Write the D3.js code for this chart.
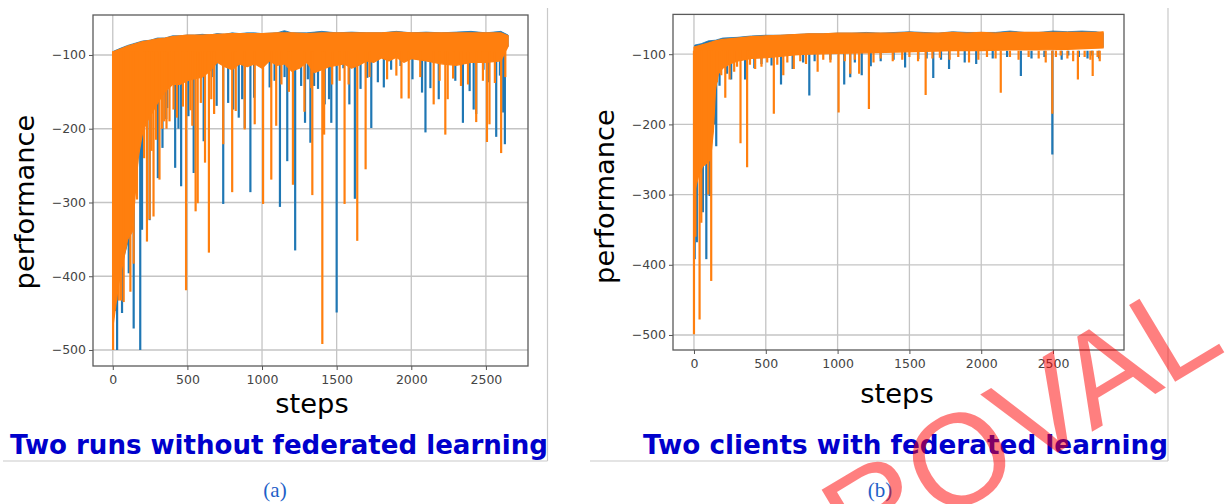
<!DOCTYPE html>
<html>
<head>
<meta charset="utf-8">
<script src="https://cdn.jsdelivr.net/npm/d3@7"></script>
<style>
  html, body { margin: 0; padding: 0; background: #fff; }
  svg { display: block; }
</style>
</head>
<body>
<svg id="fig" width="1232" height="504"></svg>
<script>
// ---- shared tick values ----
const stepTicks = [0, 500, 1000, 1500, 2000, 2500];
const perfTicks = [-100, -200, -300, -400, -500];

// ---- (a) two independent runs ----
// upper edge of each dense trace, [step, performance]
const runBlueTop = [[0,-128],[4,-95],[50,-91],[100,-87],[150,-84],[200,-81],[250,-80],[300,-77],[350,-77],[400,-74],[450,-74],[500,-73],[550,-73],[600,-72],[650,-73],[700,-71],[750,-72],[800,-70],[850,-71],[900,-70],[950,-70],[1000,-71],[1100,-70],[1150,-67],[1200,-70],[1300,-70],[1400,-68],[1500,-70],[1600,-69],[1700,-70],[1800,-70],[1900,-68],[2000,-70],[2100,-69],[2200,-70],[2300,-69],[2400,-68],[2500,-70],[2600,-68],[2649,-73]];
// lower edge of the densely filled part of each trace
const runBlueFloor = [[0,-440],[40,-400],[80,-370],[120,-340],[150,-280],[180,-220],[220,-185],[260,-175],[300,-160],[350,-145],[400,-135],[450,-135],[500,-130],[600,-125],[700,-108],[800,-115],[900,-110],[1000,-108],[1200,-110],[1400,-110],[1600,-106],[1800,-100],[2000,-100],[2200,-104],[2400,-104],[2600,-102],[2649,-88]];
// isolated downward excursions, [step, performance]
const runBlueDips = [[18,-447],[29,-500],[44,-365],[62,-450],[91,-337],[107,-396],[140,-471],[184,-500],[196,-337],[247,-324],[302,-267],[333,-226],[358,-187],[365,-172],[418,-253],[440,-200],[458,-278],[507,-183],[542,-260],[609,-217],[673,-130],[696,-169],[740,-302],[773,-165],[807,-174],[844,-185],[867,-160],[884,-199],[922,-286],[947,-158],[1029,-108],[1051,-144],[1084,-135],[1120,-306],[1151,-130],[1169,-244],[1222,-365],[1262,-142],[1288,-192],[1307,-133],[1324,-219],[1349,-142],[1375,-146],[1420,-167],[1449,-160],[1464,-192],[1500,-449],[1545,-118],[1585,-167],[1622,-295],[1660,-146],[1705,-131],[1732,-199],[1776,-137],[1816,-144],[1865,-120],[1928,-115],[2008,-133],[2072,-151],[2095,-205],[2128,-145],[2184,-160],[2295,-135],[2346,-192],[2391,-149],[2418,-174],[2435,-180],[2484,-120],[2518,-137],[2569,-211],[2594,-128],[2616,-178],[2627,-221]];

const runOrangeTop = [[0,-96],[50,-92],[100,-88],[150,-85],[200,-82],[250,-80],[300,-78],[350,-77],[400,-75],[450,-74],[500,-73],[600,-73],[700,-72],[800,-71],[900,-71],[1000,-71],[1100,-70],[1200,-70],[1300,-71],[1400,-70],[1500,-70],[1600,-70],[1700,-70],[1800,-70],[1900,-69],[2000,-70],[2100,-70],[2200,-70],[2300,-70],[2400,-70],[2500,-70],[2600,-70],[2649,-74]];
const runOrangeFloor = [[0,-470],[20,-440],[40,-410],[60,-390],[80,-370],[100,-350],[130,-340],[150,-290],[170,-240],[200,-205],[230,-190],[260,-180],[300,-165],[350,-150],[400,-140],[450,-140],[500,-135],[550,-132],[600,-130],[650,-122],[700,-110],[750,-116],[800,-120],[850,-112],[900,-116],[950,-112],[1000,-118],[1050,-108],[1100,-114],[1150,-112],[1200,-122],[1250,-118],[1300,-110],[1350,-124],[1400,-120],[1450,-116],[1500,-114],[1550,-112],[1600,-118],[1650,-114],[1700,-108],[1750,-110],[1800,-104],[1850,-108],[1900,-103],[1950,-110],[2000,-105],[2100,-108],[2200,-112],[2300,-114],[2400,-110],[2500,-110],[2600,-108],[2649,-88]];
const runOrangeDips = [[2,-500],[40,-433],[55,-433],[73,-435],[118,-421],[140,-383],[162,-296],[210,-240],[229,-353],[247,-323],[260,-230],[273,-319],[290,-215],[313,-269],[330,-200],[345,-190],[360,-200],[380,-190],[407,-174],[430,-185],[470,-170],[491,-419],[520,-175],[533,-196],[555,-312],[569,-301],[590,-165],[618,-246],[644,-368],[660,-160],[679,-180],[740,-221],[800,-286],[824,-176],[884,-201],[951,-194],[1007,-302],[1062,-269],[1095,-196],[1130,-140],[1180,-150],[1207,-276],[1284,-177],[1330,-145],[1337,-290],[1404,-492],[1416,-208],[1470,-140],[1520,-135],[1553,-302],[1580,-140],[1638,-352],[1694,-255],[1720,-130],[1838,-133],[1900,-128],[1934,-159],[1983,-159],[2060,-130],[2150,-167],[2190,-135],[2228,-208],[2244,-160],[2280,-132],[2333,-142],[2380,-140],[2435,-191],[2480,-135],[2507,-218],[2524,-194],[2560,-138],[2602,-233],[2630,-130]];

// ---- (b) two federated clients ----
const fedBlueTop = [[0,-128],[5,-87],[50,-85],[100,-81],[150,-80],[200,-77],[300,-76],[400,-74],[500,-73],[600,-73],[700,-72],[800,-71],[900,-71],[1000,-70],[1100,-70],[1200,-69],[1300,-70],[1400,-69],[1500,-68],[1600,-69],[1700,-70],[1800,-68],[1900,-69],[2000,-69],[2100,-69],[2200,-67],[2300,-69],[2400,-69],[2500,-67],[2600,-68],[2700,-67],[2800,-68],[2849,-70]];
const fedBlueFloor = [[0,-280],[60,-250],[120,-230],[150,-140],[200,-112],[300,-104],[500,-100],[800,-97],[1200,-95],[1600,-94],[2000,-93],[2400,-92],[2849,-90]];
const fedBlueDips = [[5,-392],[20,-368],[62,-325],[86,-392],[109,-302],[145,-200],[155,-231],[178,-145],[230,-128],[259,-136],[356,-136],[420,-120],[470,-114],[540,-116],[606,-143],[687,-121],[760,-112],[803,-159],[840,-110],[950,-108],[1046,-143],[1088,-133],[1120,-112],[1168,-130],[1231,-117],[1300,-110],[1390,-108],[1470,-119],[1562,-107],[1620,-106],[1666,-134],[1720,-108],[1776,-121],[1885,-112],[1965,-114],[2080,-106],[2180,-104],[2276,-131],[2350,-106],[2440,-104],[2495,-243],[2560,-108],[2606,-102],[2680,-104],[2740,-106],[2772,-102],[2820,-106]];

const fedOrangeTop = [[0,-90],[50,-87],[100,-84],[150,-81],[200,-79],[300,-77],[400,-75],[500,-74],[600,-73],[700,-72],[800,-71],[900,-71],[1000,-70],[1100,-70],[1200,-70],[1300,-70],[1400,-70],[1500,-69],[1600,-70],[1700,-70],[1800,-69],[1900,-70],[2000,-69],[2100,-70],[2200,-69],[2300,-69],[2400,-69],[2500,-69],[2600,-69],[2700,-69],[2800,-69],[2849,-68]];
const fedOrangeFloor = [[0,-300],[30,-275],[60,-260],[90,-255],[115,-250],[135,-210],[150,-150],[170,-128],[200,-120],[250,-114],[300,-110],[400,-106],[500,-105],[600,-103],[700,-101],[800,-100],[1000,-99],[1200,-98],[1400,-97],[1600,-96],[1800,-95],[2000,-95],[2200,-94],[2400,-94],[2600,-93],[2849,-91]];
const fedOrangeDips = [[0,-499],[10,-360],[39,-478],[51,-340],[100,-300],[120,-423],[160,-140],[190,-130],[218,-162],[248,-136],[280,-125],[300,-118],[324,-227],[370,-261],[390,-115],[426,-121],[470,-118],[510,-112],[556,-185],[580,-115],[622,-130],[650,-112],[695,-121],[740,-110],[780,-114],[861,-125],[900,-108],[950,-112],[1007,-183],[1050,-110],[1088,-128],[1120,-108],[1150,-128],[1218,-178],[1250,-112],[1300,-106],[1384,-110],[1450,-108],[1500,-104],[1560,-110],[1613,-158],[1660,-106],[1712,-105],[1780,-108],[1840,-104],[1915,-112],[1980,-108],[2040,-104],[2100,-106],[2136,-155],[2200,-104],[2260,-108],[2330,-104],[2400,-106],[2449,-112],[2495,-185],[2520,-104],[2553,-102],[2600,-106],[2640,-110],[2673,-136],[2720,-104],[2760,-108],[2776,-131],[2810,-104],[2825,-110]];

// ---- text ----
const xTitle = 'steps';
const yTitle = 'performance';
const captions = ['Two runs without federated learning', 'Two clients with federated learning'];
const subLabels = ['(a)', '(b)'];
const stamp = 'APPROVAL';

// ---- drawing ----
const svg = d3.select('#fig');
const BLUE = '#1f77b4', ORANGE = '#ff7f0e';
const dipBase = -95;

const panels = [
  { id: 'a', left: 93, right: 528, top: 15, bottom: 366,
    stepDomain: [-132.5, 2782], perfDomain: [-521.7, -45.8],
    stepsPos: [312, 413], perfPos: [33.5, 202],
    caption: captions[0], capX: 279, capLen: 538, sub: subLabels[0], subX: 275,
    series: [
      { color: BLUE, top: runBlueTop, floor: runBlueFloor, dips: runBlueDips, edge: 0.8 },
      { color: ORANGE, top: runOrangeTop, floor: runOrangeFloor, dips: runOrangeDips, edge: 1.2 }
    ] },
  { id: 'b', left: 673, right: 1124, top: 14.4, bottom: 350,
    stepDomain: [-146, 2994], perfDomain: [-521.4, -43.3],
    stepsPos: [897, 402.5], perfPos: [613.5, 196.5],
    caption: captions[1], capX: 905.5, capLen: 525, sub: subLabels[1], subX: 880,
    series: [
      { color: BLUE, top: fedBlueTop, floor: fedBlueFloor, dips: fedBlueDips, edge: 0.8 },
      { color: ORANGE, top: fedOrangeTop, floor: fedOrangeFloor, dips: fedOrangeDips, edge: 1.2 }
    ] }
];

// light frame lines around each subfigure
const frameLines = [[547.5, 8, 547.5, 461], [3, 461, 547.5, 461], [1168, 8, 1168, 461], [590, 461, 1168, 461]];
svg.append('g').attr('stroke', '#c9c9c9').attr('stroke-width', 1.2)
  .selectAll('line').data(frameLines).join('line')
  .attr('x1', d => d[0]).attr('y1', d => d[1]).attr('x2', d => d[2]).attr('y2', d => d[3]);

panels.forEach(p => {
  const x = d3.scaleLinear().domain(p.stepDomain).range([p.left, p.right]);
  const y = d3.scaleLinear().domain(p.perfDomain).range([p.bottom, p.top]);
  const g = svg.append('g');

  const clipId = 'plot-clip-' + p.id;
  g.append('clipPath').attr('id', clipId).append('rect')
    .attr('x', p.left).attr('y', p.top)
    .attr('width', p.right - p.left).attr('height', p.bottom - p.top);

  // grid
  const grid = g.append('g').attr('stroke', '#c4c4c4').attr('stroke-width', 1.3);
  grid.selectAll('line.gx').data(stepTicks).join('line').attr('class', 'gx')
    .attr('x1', d => x(d)).attr('x2', d => x(d)).attr('y1', p.top).attr('y2', p.bottom);
  grid.selectAll('line.gy').data(perfTicks).join('line').attr('class', 'gy')
    .attr('y1', d => y(d)).attr('y2', d => y(d)).attr('x1', p.left).attr('x2', p.right);

  // traces: dense band plus isolated dips, blue first, orange over it
  const plot = g.append('g').attr('clip-path', `url(#${clipId})`);
  const outline = d3.line().x(d => x(d[0])).y(d => y(d[1]));
  p.series.forEach(s => {
    const ring = s.top.concat(s.floor.slice().reverse());
    plot.append('path').attr('d', outline(ring) + 'Z')
      .attr('fill', s.color).attr('stroke', s.color)
      .attr('stroke-width', s.edge).attr('stroke-linejoin', 'round');
    plot.append('g').selectAll('line').data(s.dips).join('line')
      .attr('x1', d => x(d[0])).attr('x2', d => x(d[0]))
      .attr('y1', y(dipBase)).attr('y2', d => y(d[1]))
      .attr('stroke', s.color).attr('stroke-width', 2.2);
  });

  // axes
  const ax = g.append('g').attr('transform', `translate(0,${p.bottom})`)
    .call(d3.axisBottom(x).tickValues(stepTicks).tickSize(4).tickPadding(5).tickFormat(d3.format('d')));
  const ay = g.append('g').attr('transform', `translate(${p.left},0)`)
    .call(d3.axisLeft(y).tickValues(perfTicks).tickSize(4).tickPadding(3));
  [ax, ay].forEach(a => {
    a.attr('font-family', '"DejaVu Sans", sans-serif').attr('font-size', 12.5);
    a.select('.domain').remove();
    a.selectAll('line').attr('stroke', '#555');
    a.selectAll('text').attr('fill', '#444');
  });

  // axes frame
  g.append('rect').attr('x', p.left).attr('y', p.top)
    .attr('width', p.right - p.left).attr('height', p.bottom - p.top)
    .attr('fill', 'none').attr('stroke', '#5a5a5a').attr('stroke-width', 1.3);

  // axis titles
  g.append('text').attr('x', p.stepsPos[0]).attr('y', p.stepsPos[1])
    .attr('text-anchor', 'middle').attr('font-family', '"DejaVu Sans", sans-serif')
    .attr('font-size', 27.3).attr('fill', '#000').text(xTitle);
  g.append('text').attr('transform', `translate(${p.perfPos[0]},${p.perfPos[1]}) rotate(-90)`)
    .attr('text-anchor', 'middle').attr('font-family', '"DejaVu Sans", sans-serif')
    .attr('font-size', 27.3).attr('fill', '#000').text(yTitle);

  // caption
  g.append('text').attr('x', p.capX).attr('y', 453.5)
    .attr('text-anchor', 'middle').attr('font-family', '"DejaVu Sans", Verdana, sans-serif')
    .attr('font-weight', 'bold').attr('font-size', 26).attr('fill', '#0000cc')
    .attr('textLength', p.capLen).attr('lengthAdjust', 'spacingAndGlyphs')
    .text(p.caption);

  g.append('text').attr('x', p.subX).attr('y', 497)
    .attr('text-anchor', 'middle').attr('font-family', '"Liberation Serif", serif')
    .attr('font-size', 21).attr('fill', '#1f5fc8').text(p.sub);
});

// red stamp across the lower right
svg.append('text')
  .attr('transform', 'translate(1228,350) rotate(-31)')
  .attr('text-anchor', 'end')
  .attr('font-family', '"Liberation Sans", Arial, sans-serif')
  .attr('font-size', 130)
  .attr('fill', 'rgba(255,0,0,0.5)')
  .text(stamp);
</script>
</body>
</html>
